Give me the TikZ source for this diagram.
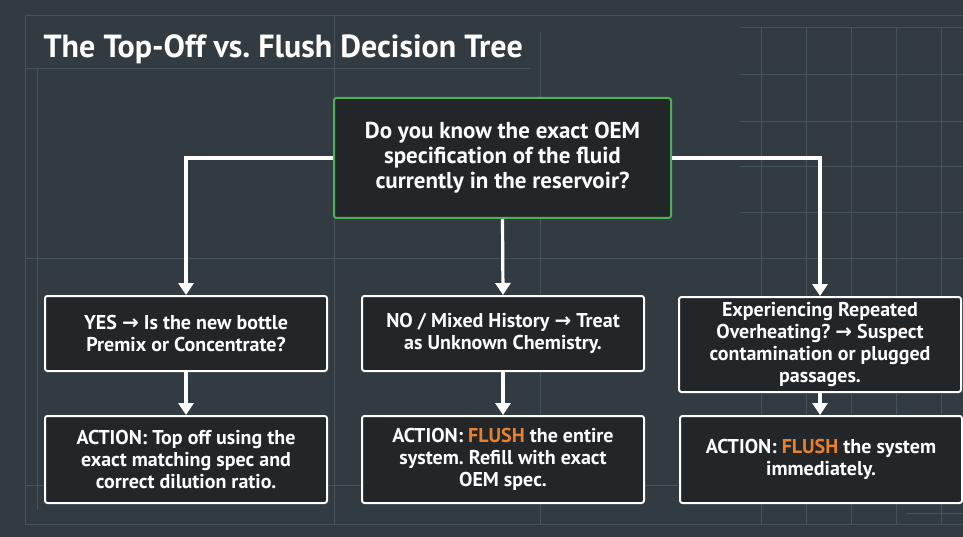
\documentclass[tikz,border=0pt]{standalone}
\usepackage{fontspec}
\setmainfont{PT Sans}
\newfontfamily\arrowfont{DejaVu Sans}
\usetikzlibrary{arrows.meta, positioning, calc}
\frenchspacing

\definecolor{bgslate}{HTML}{323B41}
\definecolor{boxfill}{HTML}{222629}
\definecolor{gridline}{HTML}{48525A}
\definecolor{okgreen}{HTML}{4FAE5A}
\definecolor{flushorange}{HTML}{E8802E}
\newcommand{\arr}{{\arrowfont\bfseries →}}
\newcommand{\flush}{\textcolor{flushorange}{FLUSH}}

\begin{document}
\begin{tikzpicture}[x=1pt, y=-1pt,
        box/.style={draw=white, line width=2pt, fill=boxfill, rounded corners=2.5pt, text=white, align=center,
            minimum width=282pt, inner sep=3pt, font=\fontsize{20}{22}\selectfont\bfseries},
        link/.style={draw=white, line width=3.2pt, -{Triangle[width=15pt, length=12pt]}},
        gridln/.style={draw=gridline, line width=0.8pt}
    ]
        \fill[bgslate] (0,0) rectangle (963,537);
        \useasboundingbox (0,0) rectangle (963,537);

        \draw[gridln] (25,524) -- (25,15) -- (963,15);
        \draw[gridln] (25,524) -- (963,524);
        \draw[gridln] (25,68) -- (530,68);
        \draw[gridln] (25,258) -- (963,258);
        \draw[gridln] (25,485) -- (963,485);
        \draw[gridln] (37,68) -- (37,510);
        \draw[gridln] (334,15) -- (334,524);
        \draw[gridln] (540,32) -- (540,524);
        \foreach \gx in {761,806,851,896,941}
            \draw[gridln] (\gx,27) -- (\gx,524);
        \foreach \gy in {27,74,121,166,212}
            \draw[gridln] (740,\gy) -- (963,\gy);
        \draw[gridln] (906,513) -- (963,513);

        \node[anchor=west, text=white, font=\fontsize{32}{34}\selectfont\bfseries] (title) at (40,49)
            {The Top-Off vs.\ Flush Decision Tree};

        \node[box, draw=okgreen, minimum width=337pt, minimum height=120pt,
            font=\fontsize{23}{25}\selectfont\bfseries] (spec) at (502.5,158)
            {Do you know the exact OEM\\specification of the fluid\\currently in the reservoir?};

        \node[box, anchor=north, minimum height=75pt] (yes) at (186,295)
            {YES \arr{} Is the new bottle\\Premix or Concentrate?};
        \node[box, anchor=north, minimum height=75pt] (mixed) at (503,295)
            {NO / Mixed History \arr{} Treat\\as Unknown Chemistry.};
        \node[box, anchor=north, minimum height=95pt] (heat) at (820,296)
            {Experiencing Repeated\\Overheating? \arr{} Suspect\\contamination or plugged\\passages.};

        \node[box, minimum height=87pt, below=43pt of yes] (topoff)
            {ACTION: Top off using the\\exact matching spec and\\correct dilution ratio.};
        \node[box, minimum height=87pt, below=43pt of mixed] (flushall)
            {ACTION: \flush{} the entire\\system. Refill with exact\\OEM spec.};
        \node[box, minimum height=87pt, right=34pt of flushall] (flushnow)
            {ACTION: \flush{} the system\\immediately.};

        \draw[link] (spec.west) -| (yes.north);
        \draw[link] (spec.south) -- (mixed.north);
        \draw[link] (spec.east) -| (heat.north);
        \draw[link] (yes) -- (topoff);
        \draw[link] (mixed) -- (flushall);
        \draw[link] (heat.south) -- (heat.south |- flushnow.north);
    \end{tikzpicture}
\end{document}
